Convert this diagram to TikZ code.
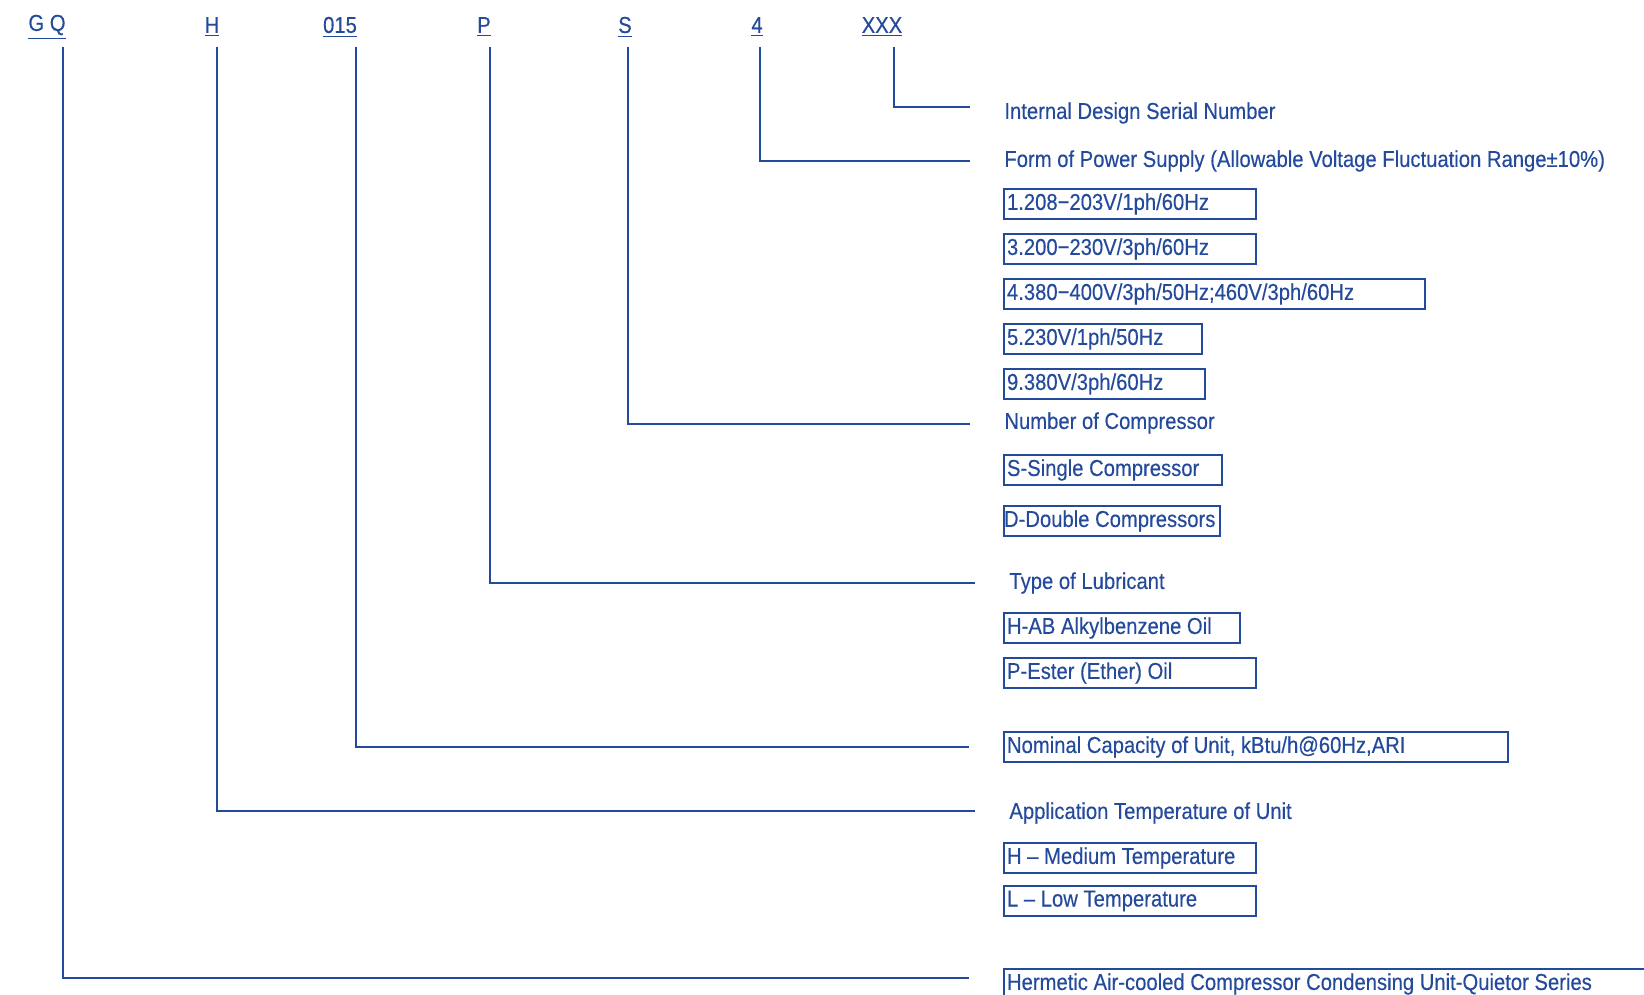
\documentclass[tikz,border=0pt]{standalone}
\usepackage{fontspec}
\setmainfont{Liberation Sans}[FakeStretch=0.88, FakeBold=0.3]
\definecolor{codeblue}{RGB}{36,74,156}

\begin{document}
\begin{tikzpicture}[x=0.5pt, y=-0.5pt,
                    every node/.style={text=codeblue, font=\fontsize{11.5}{13}\selectfont},
                    code/.style={inner sep=0pt},
                    lead/.style={draw=codeblue, line width=1pt, shorten >=17pt},
                    head/.style={anchor=west, inner sep=0pt},
                    opt/.style={draw=codeblue, line width=1pt, anchor=west, inner xsep=1.5pt,
                                inner ysep=0pt, minimum height=15pt, text width=#1, align=flush left}]

    \useasboundingbox (0,0) rectangle (1644,995);

    % model code
    \node[code] (gq)  at (47,27)  {\underline{G Q}};
    \node[code] (h)   at (212,27) {\underline{H}};
    \node[code] (cap) at (340,27) {\underline{015}};
    \node[code] (p)   at (484,27) {\underline{P}};
    \node[code] (s)   at (625,27) {\underline{S}};
    \node[code] (v)   at (757,27) {\underline{4}};
    \node[code] (x)   at (882,27) {\underline{XXX}};

    \coordinate (tgq)  at (63,47);
    \coordinate (th)   at (217,47);
    \coordinate (tcap) at (356,47);
    \coordinate (tp)   at (490,47);
    \coordinate (ts)   at (628,47);
    \coordinate (tv)   at (760,47);
    \coordinate (tx)   at (894,47);

    % descriptions
    \node[head] (serial) at (1004,113) {Internal Design Serial Number};
    \node[head] (power)  at (1004,161) {Form of Power Supply (Allowable Voltage Fluctuation Range±10\%)};
    \node[opt=123pt]   (p1) at (1003,204) {1.208−203V/1ph/60Hz};
    \node[opt=123pt]   (p3) at (1003,249) {3.200−230V/3ph/60Hz};
    \node[opt=207.5pt] (p4) at (1003,294) {4.380−400V/3ph/50Hz;460V/3ph/60Hz};
    \node[opt=96pt]    (p5) at (1003,339) {5.230V/1ph/50Hz};
    \node[opt=97.5pt]  (p9) at (1003,384) {9.380V/3ph/60Hz};

    \node[head] (comp) at (1004,423) {Number of Compressor};
    \node[opt=106pt] (cs) at (1003,470) {S-Single Compressor};
    \node[opt=108pt, inner xsep=0pt] (cd) at (1003,521) {D-Double Compressors};

    \node[head] (lube) at (1009,583) {Type of Lubricant};
    \node[opt=115pt] (lh) at (1003,628) {H-AB Alkylbenzene Oil};
    \node[opt=123pt] (lp) at (1003,673) {P-Ester (Ether) Oil};

    \node[opt=249pt] (nom) at (1003,747) {Nominal Capacity of Unit, kBtu/h@60Hz,ARI};

    \node[head] (temp) at (1009,813) {Application Temperature of Unit};
    \node[opt=123pt] (th1) at (1003,858) {H – Medium Temperature};
    \node[opt=123pt] (tl1) at (1003,901) {L – Low Temperature};

    \node[opt=324.5pt] (series) at (1003,984) {Hermetic Air-cooled Compressor Condensing Unit-Quietor Series};

    % leaders
    \draw[lead] (tx)   |- ([yshift=3pt]serial.west);
    \draw[lead] (tv)   |- (power.west);
    \draw[lead] (ts)   |- ([yshift=-0.5pt]comp.west);
    \draw[lead] (tp)   |- (lube.west);
    \draw[lead] (tcap) |- (nom.west);
    \draw[lead] (th)   |- ([yshift=1pt]temp.west);
    \draw[lead] (tgq)  |- ([yshift=3pt]series.west);
\end{tikzpicture}
\end{document}
